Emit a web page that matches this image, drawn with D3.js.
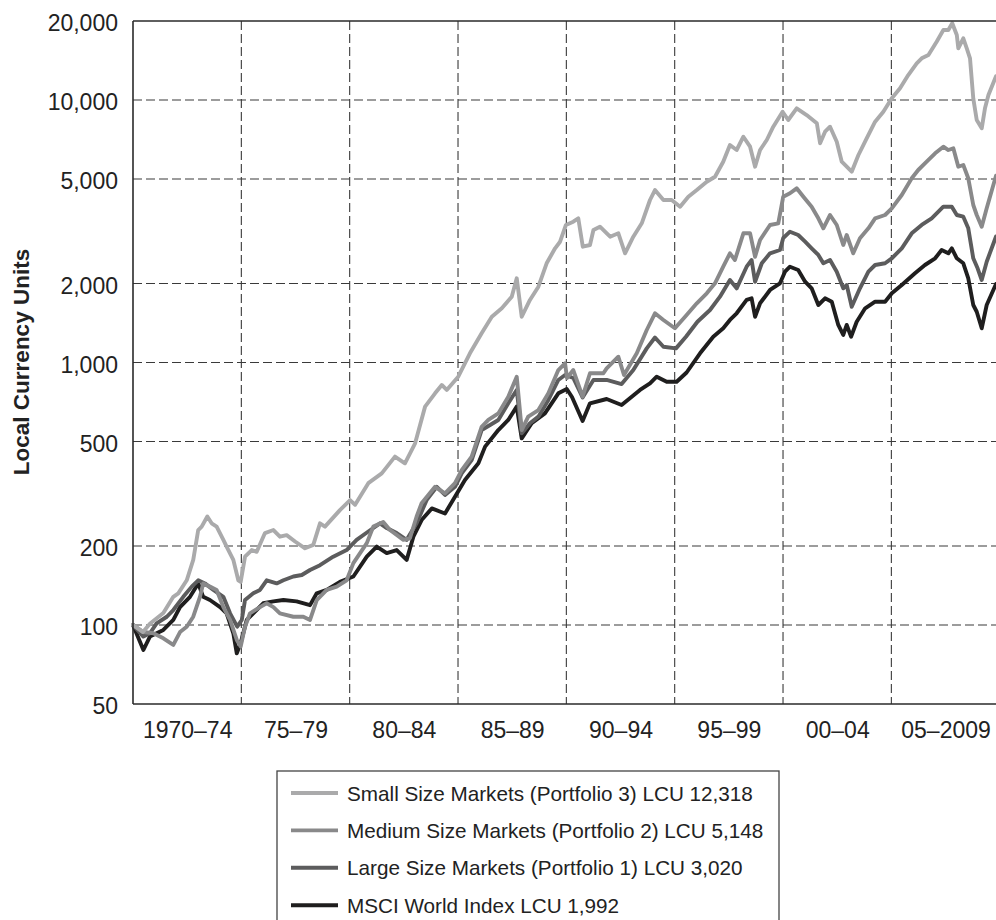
<!DOCTYPE html>
<html>
<head>
<meta charset="utf-8">
<script src="https://cdn.jsdelivr.net/npm/d3@7"></script>
<style>
  html, body { margin: 0; padding: 0; background: #fff; }
  svg { display: block; font-family: "Liberation Sans", Arial, Helvetica, sans-serif; }
</style>
</head>
<body>
<svg id="chart" width="996" height="920"></svg>
<script>
// Cumulative index levels (1970 = 100), local currency units, [year, level]
const smallMarkets = [[1970.00,100],[1970.46,94],[1970.78,101],[1971.40,111],[1971.86,128],[1972.09,132],[1972.48,148],[1972.78,177],[1973.01,230],[1973.17,237],[1973.43,259],[1973.63,244],[1973.86,237],[1974.17,211],[1974.32,199],[1974.63,177],[1974.86,148],[1974.97,146],[1975.17,182],[1975.48,193],[1975.71,190],[1976.09,224],[1976.48,230],[1976.78,217],[1977.09,220],[1977.48,208],[1977.94,196],[1978.32,202],[1978.63,244],[1978.86,237],[1979.55,274],[1980.02,299],[1980.25,287],[1980.86,347],[1981.48,378],[1982.09,438],[1982.55,413],[1983.02,492],[1983.48,679],[1983.94,763],[1984.25,821],[1984.48,786],[1985.01,883],[1985.55,1084],[1986.09,1292],[1986.56,1494],[1987.02,1609],[1987.48,1781],[1987.71,2093],[1987.94,1494],[1988.32,1731],[1988.71,1944],[1989.09,2388],[1989.48,2723],[1989.71,2885],[1989.98,3341],[1990.32,3438],[1990.55,3543],[1990.76,2761],[1991.09,2803],[1991.25,3197],[1991.55,3291],[1992.02,3014],[1992.40,3106],[1992.71,2606],[1993.09,3014],[1993.48,3391],[1993.86,4160],[1994.09,4541],[1994.48,4160],[1994.86,4160],[1995.25,3922],[1995.63,4282],[1996.02,4541],[1996.48,4884],[1996.86,5102],[1997.24,5820],[1997.55,6739],[1997.86,6450],[1998.17,7247],[1998.48,6639],[1998.71,5570],[1998.94,6450],[1999.25,7041],[1999.55,7912],[1999.98,9024],[2000.24,8391],[2000.63,9298],[2001.09,8767],[2001.56,8152],[2001.71,6840],[2001.94,7572],[2002.17,7912],[2002.48,6936],[2002.71,5820],[2003.17,5331],[2003.48,6173],[2003.86,7146],[2004.25,8267],[2004.63,9024],[2005.02,10150],[2005.40,11080],[2005.78,12451],[2006.17,13800],[2006.40,14416],[2006.71,14839],[2007.09,16677],[2007.40,18478],[2007.63,18478],[2007.81,19600],[2008.02,17686],[2008.09,15740],[2008.32,17180],[2008.48,15740],[2008.63,14416],[2008.78,10150],[2008.94,8391],[2009.17,7801],[2009.32,9298],[2009.48,10448],[2009.83,12318]];

const mediumMarkets = [[1970.00,100],[1970.48,94],[1970.94,93],[1971.40,89],[1971.86,84],[1972.17,94],[1972.48,98.5],[1972.78,107.5],[1973.09,128],[1973.24,144],[1973.55,140],[1973.86,136],[1974.17,117],[1974.48,104.5],[1974.79,87.7],[1974.97,82.7],[1975.17,98.5],[1975.40,110.8],[1975.86,117],[1976.17,121],[1976.48,117],[1976.78,110.8],[1977.40,107.5],[1977.86,107.5],[1978.17,104.5],[1978.48,124.5],[1978.94,136],[1979.40,140],[1979.86,148],[1980.17,172],[1980.79,205],[1981.09,237],[1981.55,247],[1981.86,230],[1982.48,211],[1982.78,214],[1983.09,259],[1983.32,291],[1983.94,336],[1984.40,317],[1984.86,347],[1985.17,389],[1985.63,438],[1986.09,569],[1986.40,604],[1986.86,640],[1987.32,741],[1987.71,883],[1987.94,553],[1988.24,622],[1988.71,659],[1989.17,763],[1989.63,936],[1989.94,993],[1990.03,873],[1990.32,936],[1990.75,741],[1991.09,910],[1991.71,910],[1991.86,950],[1992.40,1052],[1992.66,896],[1993.25,1084],[1993.71,1330],[1994.09,1540],[1994.48,1452],[1995.01,1350],[1995.48,1494],[1996.02,1681],[1996.48,1835],[1996.86,2003],[1997.24,2317],[1997.55,2606],[1997.78,2458],[1998.17,3106],[1998.48,3106],[1998.71,2529],[1998.94,2929],[1999.40,3341],[1999.78,3391],[2000.01,4282],[2000.32,4412],[2000.63,4609],[2000.94,4282],[2001.32,3922],[2001.63,3543],[2001.86,3245],[2002.17,3647],[2002.48,3341],[2002.78,2803],[2002.94,3060],[2003.24,2606],[2003.55,2973],[2003.94,3245],[2004.25,3543],[2004.71,3647],[2005.02,3867],[2005.48,4346],[2005.94,5032],[2006.24,5412],[2006.63,5820],[2007.02,6266],[2007.40,6639],[2007.63,6450],[2007.86,6547],[2008.09,5570],[2008.32,5655],[2008.55,5032],[2008.78,3981],[2008.94,3647],[2009.17,3291],[2009.40,3867],[2009.83,5148]];

const largeMarkets = [[1970.00,100],[1970.48,90.3],[1970.78,93],[1971.09,101.5],[1971.56,107.5],[1971.86,114],[1972.32,128],[1972.71,140],[1973.01,148],[1973.32,144],[1973.71,136],[1974.17,128],[1974.48,110.8],[1974.81,98.5],[1975.02,104.5],[1975.17,124.5],[1975.55,132],[1975.86,136],[1976.17,148],[1976.63,144],[1976.94,148],[1977.40,153],[1977.79,155],[1978.17,162],[1978.63,169],[1979.24,182],[1979.86,193],[1980.32,211],[1980.86,227],[1981.40,244],[1981.71,234],[1982.17,224],[1982.63,211],[1983.09,244],[1983.55,299],[1984.02,336],[1984.40,313],[1984.86,336],[1985.17,378],[1985.63,425],[1986.09,553],[1986.48,578],[1986.86,604],[1987.32,699],[1987.71,786],[1987.94,537],[1988.32,587],[1988.71,622],[1989.17,720],[1989.63,858],[1989.94,896],[1990.32,873],[1990.75,736],[1991.25,858],[1991.86,858],[1992.55,828],[1993.09,936],[1993.71,1132],[1994.09,1245],[1994.48,1148],[1995.06,1132],[1995.52,1254],[1996.05,1430],[1996.63,1585],[1997.09,1781],[1997.55,2062],[1997.86,1917],[1998.32,2317],[1998.55,2458],[1998.71,2031],[1999.02,2388],[1999.40,2606],[1999.86,2683],[2000.01,2980],[2000.32,3150],[2000.70,3060],[2001.02,2885],[2001.32,2723],[2001.63,2568],[2001.86,2388],[2002.17,2458],[2002.48,2218],[2002.78,1917],[2002.94,1974],[2003.17,1631],[2003.55,1917],[2003.94,2218],[2004.25,2352],[2004.71,2388],[2005.02,2494],[2005.48,2723],[2005.94,3106],[2006.40,3341],[2006.86,3543],[2007.40,3922],[2007.79,3922],[2008.02,3647],[2008.32,3593],[2008.55,3245],[2008.78,2494],[2008.98,2285],[2009.17,2062],[2009.40,2421],[2009.83,3020]];

const msciWorld = [[1970.00,100],[1970.48,80.3],[1970.78,90.3],[1971.40,95.7],[1971.86,104.5],[1972.17,117],[1972.63,128],[1973.01,144],[1973.24,128],[1973.55,124.5],[1974.02,117],[1974.32,110.8],[1974.63,93],[1974.79,78],[1974.97,85.3],[1975.25,104.5],[1975.55,110.8],[1976.01,121],[1976.48,123],[1976.94,124.5],[1977.55,123],[1978.17,119],[1978.48,132],[1978.94,136],[1979.55,146],[1980.17,153],[1980.79,182],[1981.25,199],[1981.71,188],[1982.17,193],[1982.63,177],[1982.94,217],[1983.32,251],[1983.79,278],[1984.40,266],[1984.86,308],[1985.32,357],[1985.94,413],[1986.25,478],[1986.86,553],[1987.32,604],[1987.71,679],[1987.94,514],[1988.40,587],[1989.01,640],[1989.63,763],[1990.02,793],[1990.26,739],[1990.75,599],[1991.09,699],[1991.86,726],[1992.55,689],[1993.40,786],[1993.86,833],[1994.17,883],[1994.63,845],[1995.09,845],[1995.55,916],[1996.17,1084],[1996.78,1254],[1997.24,1350],[1997.55,1452],[1997.86,1540],[1998.32,1731],[1998.55,1756],[1998.71,1494],[1998.94,1681],[1999.40,1889],[1999.86,2003],[2000.09,2218],[2000.32,2317],[2000.70,2251],[2001.02,2031],[2001.32,1917],[2001.63,1656],[2001.94,1756],[2002.25,1705],[2002.55,1390],[2002.78,1273],[2002.94,1390],[2003.14,1254],[2003.40,1430],[2003.79,1609],[2004.25,1705],[2004.71,1705],[2005.02,1835],[2005.48,1974],[2006.09,2187],[2006.55,2352],[2007.02,2494],[2007.32,2683],[2007.63,2606],[2007.79,2723],[2008.02,2494],[2008.32,2388],[2008.55,2093],[2008.78,1656],[2008.94,1561],[2009.17,1350],[2009.40,1656],[2009.83,1992]];

const seriesLabels = [
  "Small Size Markets (Portfolio 3) LCU 12,318",
  "Medium Size Markets (Portfolio 2) LCU 5,148",
  "Large Size Markets (Portfolio 1) LCU 3,020",
  "MSCI World Index LCU 1,992"
];
const seriesColors = ["#aaaaab", "#89898a", "#5c5c5d", "#1f1e1e"];

const yTickValues = [50, 100, 200, 500, 1000, 2000, 5000, 10000, 20000];
const periodLabels = ["1970\u201374", "75\u201379", "80\u201384", "85\u201389", "90\u201394", "95\u201399", "00\u201304", "05\u20132009"];
const periodStarts = [1970, 1975, 1980, 1985, 1990, 1995, 2000, 2005];

const svg = d3.select("#chart");
const W = 996;
const plot = { left: 133, top: 21, bottom: 704, right: 996 };

const x = d3.scaleLinear().domain([1970, 2010]).range([plot.left, 999.7]);
const y = d3.scaleLog().domain([50, 20000]).range([plot.bottom, plot.top]);

// Dashed grid
const grid = svg.append("g");
grid.selectAll("line.h")
  .data(yTickValues.filter(v => v > 50 && v < 20000))
  .join("line")
  .attr("x1", plot.left).attr("x2", plot.right)
  .attr("y1", d => y(d)).attr("y2", d => y(d))
  .attr("stroke", "#3a3a3a").attr("stroke-width", 1.1)
  .attr("stroke-dasharray", "9,4");
grid.selectAll("line.v")
  .data(periodStarts.slice(1))
  .join("line")
  .attr("x1", d => x(d)).attr("x2", d => x(d))
  .attr("y1", plot.top).attr("y2", plot.bottom)
  .attr("stroke", "#3a3a3a").attr("stroke-width", 1.1)
  .attr("stroke-dasharray", "9,4");

// Series lines, index first so the portfolios sit on top
const line = d3.line().x(d => x(d[0])).y(d => y(d[1])).curve(d3.curveLinear);
const allSeries = [smallMarkets, mediumMarkets, largeMarkets, msciWorld];
const lines = svg.append("g");
[3, 2, 1, 0].forEach(i => {
  lines.append("path")
    .datum(allSeries[i])
    .attr("d", line)
    .attr("fill", "none")
    .attr("stroke", seriesColors[i])
    .attr("stroke-width", 3.9)
    .attr("stroke-linejoin", "round")
    .attr("stroke-linecap", "round");
});

// Frame (left, top and bottom edges)
const frame = svg.append("g").attr("stroke", "#2a2a2a").attr("stroke-width", 1.6);
frame.append("line").attr("x1", plot.left).attr("x2", plot.left).attr("y1", plot.top).attr("y2", plot.bottom);
frame.append("line").attr("x1", plot.left).attr("x2", W).attr("y1", plot.top).attr("y2", plot.top);
frame.append("line").attr("x1", plot.left).attr("x2", W).attr("y1", plot.bottom).attr("y2", plot.bottom);

// Y axis labels
const yAxis = d3.axisLeft(y)
  .tickValues(yTickValues)
  .tickFormat(d3.format(","))
  .tickSize(0)
  .tickPadding(0);
const gy = svg.append("g").attr("transform", `translate(118,0)`).call(yAxis);
gy.select(".domain").remove();
gy.selectAll("text")
  .attr("font-size", 23)
  .attr("font-family", "'Liberation Sans', Arial, sans-serif")
  .attr("fill", "#222")
  .attr("dy", "0.42em");

// X period labels, centred in each five-year band
const xAxis = d3.axisBottom(x)
  .tickValues(periodStarts.map(s => s + 2.5))
  .tickFormat((d, i) => periodLabels[i])
  .tickSize(0)
  .tickPadding(0);
const gx = svg.append("g").attr("transform", `translate(0,738)`).call(xAxis);
gx.select(".domain").remove();
gx.selectAll("text")
  .attr("font-size", 23)
  .attr("font-family", "'Liberation Sans', Arial, sans-serif")
  .attr("fill", "#222")
  .attr("dy", 0)
  .attr("y", 0);

// Y axis title
svg.append("text")
  .attr("transform", "translate(28.5,362) rotate(-90)")
  .attr("text-anchor", "middle")
  .attr("font-size", 22.5)
  .attr("font-weight", "bold")
  .attr("fill", "#222")
  .text("Local Currency Units");

// Legend
const legend = svg.append("g");
legend.append("rect")
  .attr("x", 277).attr("y", 771)
  .attr("width", 502).attr("height", 170)
  .attr("fill", "none").attr("stroke", "#444").attr("stroke-width", 1.3);
const rows = legend.selectAll("g.row")
  .data(seriesLabels)
  .join("g")
  .attr("transform", (d, i) => `translate(0,${793 + i * 37.4})`);
rows.append("line")
  .attr("x1", 291).attr("x2", 338)
  .attr("y1", 0).attr("y2", 0)
  .attr("stroke", (d, i) => seriesColors[i])
  .attr("stroke-width", 3.9);
rows.append("text")
  .attr("x", 347).attr("y", 7.5)
  .attr("font-size", 20.7)
  .attr("fill", "#222")
  .text(d => d);
</script>
</body>
</html>
